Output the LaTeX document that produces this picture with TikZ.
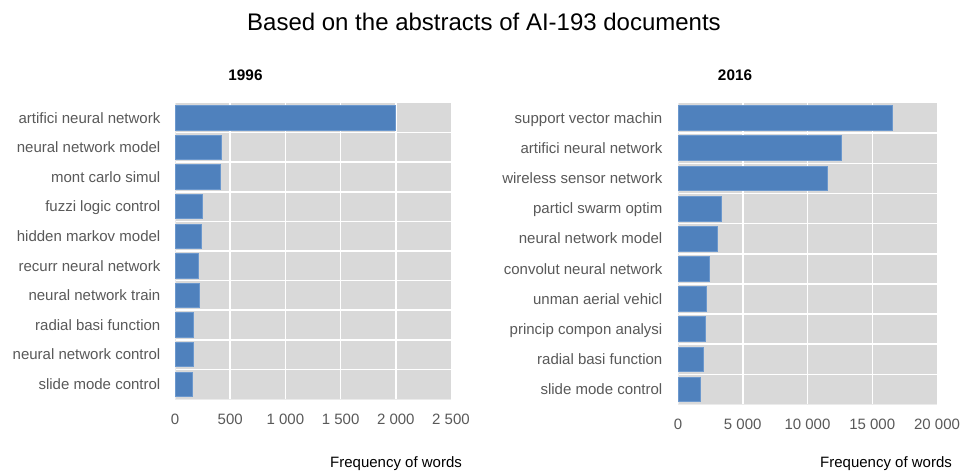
\documentclass[tikz,border=0pt]{standalone}
\usepackage{fontspec}
\setmainfont{Liberation Sans}
\definecolor{barblue}{RGB}{79,129,189}
\definecolor{baredge}{RGB}{108,152,205}
\definecolor{plotgray}{RGB}{217,217,217}
\definecolor{ticktext}{RGB}{89,89,89}
\definecolor{axisline}{RGB}{235,235,235}
\begin{document}
\begin{tikzpicture}[x=1pt,y=-1pt,
  gridline/.style={white,line width=1.5pt},
  bar/.style={fill=barblue,draw=baredge,line width=0.8pt},
  catlabel/.style={anchor=base east,inner sep=0pt,text=ticktext,font=\fontsize{15}{18}\selectfont},
  ticklabel/.style={anchor=center,inner sep=0pt,text=ticktext,font=\fontsize{15}{18}\selectfont},
  axistitle/.style={anchor=west,inner sep=0pt,text=black,font=\fontsize{15}{18}\selectfont},
  charttitle/.style={anchor=center,inner sep=0pt,font=\bfseries\fontsize{15.3}{18}\selectfont},
  maintitle/.style={anchor=center,inner sep=0pt,font=\fontsize{24}{28}\selectfont}]
\useasboundingbox[fill=white] (0,0) rectangle (960,471);

\node[maintitle] (title) at (484,22) {Based on the abstracts of AI-193 documents};

% ---------- 1996 (values in hundreds) ----------
\node[charttitle] (t1996) at (245.5,75) {1996};
\fill[plotgray] (175,103) rectangle (451,399);
\foreach \g in {1,...,4}
  \draw[gridline] ({175+\g*55.2},103) -- ({175+\g*55.2},399);
\foreach \r in {1,...,9}
  \draw[gridline] (175,{103+\r*29.6}) -- (451,{103+\r*29.6});
\draw[axisline,line width=0.8pt] (175,103) -- (175,399) -- (451,399);
\foreach \v/\lab [count=\i] in {19.93/artifici neural network,4.23/neural network model,
    4.10/mont carlo simul,2.50/fuzzi logic control,2.38/hidden markov model,
    2.15/recurr neural network,2.17/neural network train,1.66/radial basi function,
    1.66/neural network control,1.57/slide mode control}{
  \pgfmathsetmacro\yt{103+(\i-1)*29.6+2.6}
  \pgfmathsetmacro\yb{\yt+24.4}
  \pgfmathsetmacro\xe{175+\v*11.04}
  \draw[bar] (175.8,\yt) rectangle (\xe,\yb);
  \node[catlabel] (a\i) at (160.5,{103+(\i-0.5)*29.6+5.3}) {\lab};
}
\foreach \t/\lab [count=\k from 0] in {0/0,5/500,10/1 000,15/1 500,20/2 000,25/2 500}
  \node[ticklabel] (ax\k) at ({175+\t*11.04},419) {\lab};
\node[axistitle] (f1996) at (330,463.5) {Frequency of words};

% ---------- 2016 (values in thousands) ----------
\node[charttitle] (t2016) at (735,75) {2016};
\fill[plotgray] (678,103) rectangle (937,404.5);
\foreach \g in {1,...,3}
  \draw[gridline] ({678+\g*64.75},103) -- ({678+\g*64.75},404.5);
\foreach \r in {1,...,9}
  \draw[gridline] (678,{103+\r*30.15}) -- (937,{103+\r*30.15});
\draw[axisline,line width=0.8pt] (678,103) -- (678,404.5) -- (937,404.5);
\foreach \v/\lab [count=\i] in {16.55/support vector machin,12.64/artifici neural network,
    11.56/wireless sensor network,3.38/particl swarm optim,3.006/neural network model,
    2.41/convolut neural network,2.20/unman aerial vehicl,2.085/princip compon analysi,
    1.98/radial basi function,1.70/slide mode control}{
  \pgfmathsetmacro\yt{103+(\i-1)*30.15+2.7}
  \pgfmathsetmacro\yb{\yt+24.8}
  \pgfmathsetmacro\xe{678+\v*12.95}
  \draw[bar] (678.8,\yt) rectangle (\xe,\yb);
  \node[catlabel] (b\i) at (662.5,{103+(\i-0.5)*30.15+5.3}) {\lab};
}
\foreach \t/\lab [count=\k from 0] in {0/0,5/5 000,10/10 000,15/15 000,20/20 000}
  \node[ticklabel] (bx\k) at ({678+\t*12.95},424) {\lab};
\node[axistitle] (f2016) at (820,463.5) {Frequency of words};
\end{tikzpicture}
\end{document}
